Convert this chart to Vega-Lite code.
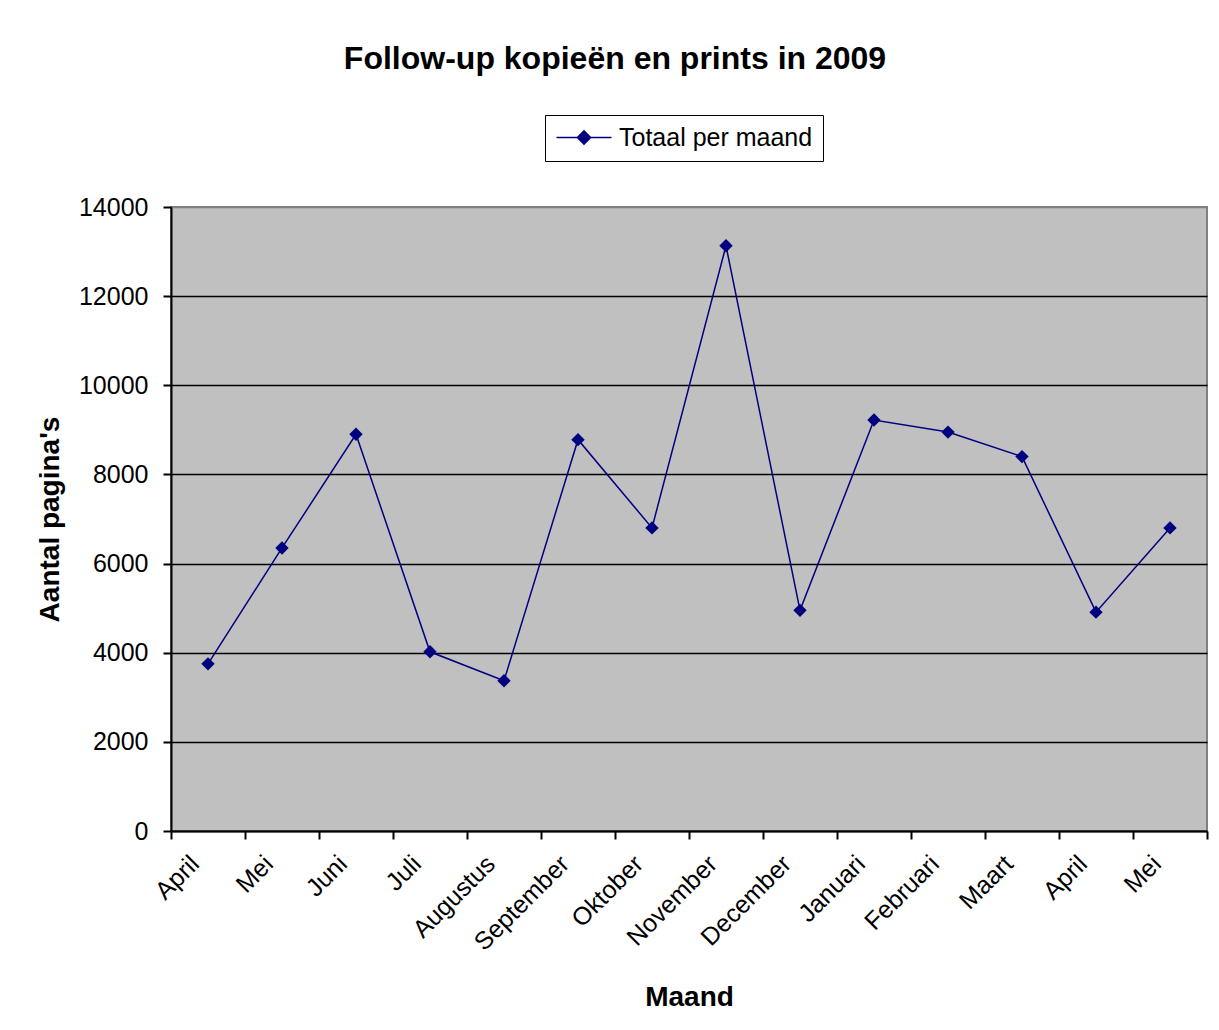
{
  "$schema": "https://vega.github.io/schema/vega-lite/v6.json",
  "width": 1036,
  "height": 624,
  "autosize": {"type": "none"},
  "padding": {"left": 171, "top": 207, "right": 12, "bottom": 199},
  "background": "white",
  "title": {
    "text": "Follow-up kopieën en prints in 2009",
    "font": "Liberation Sans",
    "fontSize": 32,
    "fontWeight": "bold",
    "color": "black",
    "anchor": "middle",
    "dx": -74,
    "offset": 39
  },
  "config": {
    "view": {"fill": "#C0C0C0", "stroke": "#808080", "strokeWidth": 2},
    "axis": {
      "labelFont": "Liberation Sans",
      "labelFontSize": 25,
      "labelColor": "black",
      "titleFont": "Liberation Sans",
      "titleFontSize": 28,
      "titleFontWeight": "bold",
      "titleColor": "black",
      "domainColor": "black",
      "domainWidth": 2,
      "tickColor": "black",
      "tickWidth": 2,
      "tickSize": 8
    },
    "legend": {"labelFont": "Liberation Sans"}
  },
  "data": {
    "values": [
      {"periode": "April 2009", "aantal": 3750},
      {"periode": "Mei 2009", "aantal": 6350},
      {"periode": "Juni 2009", "aantal": 8900},
      {"periode": "Juli 2009", "aantal": 4020},
      {"periode": "Augustus 2009", "aantal": 3370},
      {"periode": "September 2009", "aantal": 8780},
      {"periode": "Oktober 2009", "aantal": 6800},
      {"periode": "November 2009", "aantal": 13130},
      {"periode": "December 2009", "aantal": 4950},
      {"periode": "Januari 2010", "aantal": 9220},
      {"periode": "Februari 2010", "aantal": 8950},
      {"periode": "Maart 2010", "aantal": 8400},
      {"periode": "April 2010", "aantal": 4910},
      {"periode": "Mei 2010", "aantal": 6800}
    ]
  },
  "encoding": {
    "x": {
      "field": "periode",
      "type": "ordinal",
      "sort": null,
      "scale": {"type": "band", "paddingInner": 0, "paddingOuter": 0},
      "title": "Maand",
      "axis": {
        "labelExpr": "datum.value ? split(datum.value, ' ')[0] : ''",
        "labelAngle": -45,
        "tickBand": "extent",
        "labelOffset": -22,
        "labelPadding": 12,
        "titlePadding": 28,
        "grid": false
      }
    },
    "y": {
      "field": "aantal",
      "type": "quantitative",
      "scale": {"domain": [0, 14000], "nice": false},
      "title": "Aantal pagina's",
      "axis": {
        "values": [0, 2000, 4000, 6000, 8000, 10000, 12000, 14000],
        "format": "d",
        "labelPadding": 15,
        "titlePadding": 14,
        "grid": true,
        "gridColor": {"condition": {"test": "datum.value == 14000", "value": "#808080"}, "value": "black"},
        "gridWidth": 1.5
      }
    },
    "color": {
      "datum": "Totaal per maand",
      "type": "nominal",
      "scale": {"range": ["#000080"]},
      "legend": {
        "title": null,
        "orient": "none",
        "legendX": 374,
        "legendY": -92,
        "direction": "horizontal",
        "padding": 10,
        "strokeColor": "black",
        "fillColor": "white",
        "labelFontSize": 25,
        "labelLimit": 0,
        "labelColor": "black",
        "labelOffset": 39,
        "symbolType": "M-1,0L4,0M1.5,-0.6L2.1,0L1.5,0.6L0.9,0Z",
        "symbolSize": 484,
        "symbolStrokeWidth": 1.5,
        "symbolStrokeColor": "#000080",
        "symbolFillColor": "#000080"
      }
    }
  },
  "layer": [
    {"mark": {"type": "line", "strokeWidth": 1.5}},
    {"mark": {"type": "point", "shape": "diamond", "filled": true, "size": 180, "opacity": 1}}
  ]
}
